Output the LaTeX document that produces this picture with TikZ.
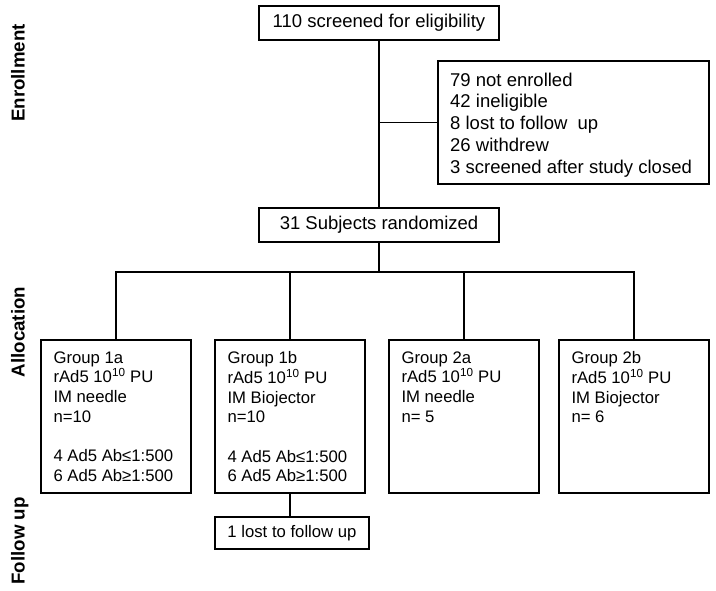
\documentclass[tikz,border=0pt]{standalone}
\usepackage{fontspec}
\setmainfont{Liberation Sans}
\begin{document}
\begin{tikzpicture}[x=1pt,y=-1pt,
  box/.style={draw, line width=1.35pt, inner sep=0pt, minimum width=#1},
  bigtxt/.style={font=\fontsize{18.5}{21.8}\selectfont},
  smalltxt/.style={font=\fontsize{16.7}{19.7}\selectfont},
  inbox/.style={inner sep=0pt, anchor=north west, align=left},
  side/.style={font=\fontsize{18.7}{20}\selectfont\bfseries, rotate=90, anchor=base, inner sep=0pt},
  conn/.style={line width=1.35pt}]
\useasboundingbox (0,0) rectangle (716,590);

% side labels
\node[side] (lenr) at (24.5,73) {Enrollment};
\node[side] (lall) at (24.5,332) {Allocation};
\node[side] (lfol) at (24.5,541) {Follow up};

% enrollment
\node[box=240pt, minimum height=34pt, bigtxt] (top) at (379,23) {110 screened for eligibility};
\node[box=271pt, minimum height=123pt] (excl) at (573.5,122.5) {};
\node[inbox, bigtxt] (exclt) at (450,72.5) {79 not enrolled\\42 ineligible\\8 lost to follow\ \ up\\26 withdrew\\3 screened after study closed};
\node[box=240pt, minimum height=34pt, bigtxt] (rand) at (379,225) {31 Subjects randomized};

% groups
\node[box=150pt, minimum height=153pt] (g1a) at (116,416.5) {};
\node[box=150pt, minimum height=153pt] (g1b) at (290,416.5) {};
\node[box=150pt, minimum height=153pt] (g2a) at (464,416.5) {};
\node[box=150pt, minimum height=153pt] (g2b) at (634,416.5) {};

\node[inbox, smalltxt] (g1at) at ([shift={(13pt,-12pt)}]g1a.north west) {Group 1a\\rAd5 10\textsuperscript{10} PU\\IM needle\\n=10\\[19.7pt]4 Ad5 Ab≤1:500\\6 Ad5 Ab≥1:500};
\node[inbox, smalltxt] (g1bt) at ([shift={(13pt,-12pt)}]g1b.north west) {Group 1b\\rAd5 10\textsuperscript{10} PU\\IM Biojector\\n=10\\[19.7pt]4 Ad5 Ab≤1:500\\6 Ad5 Ab≥1:500};
\node[inbox, smalltxt] (g2at) at ([shift={(13pt,-12pt)}]g2a.north west) {Group 2a\\rAd5 10\textsuperscript{10} PU\\IM needle\\n= 5};
\node[inbox, smalltxt] (g2bt) at ([shift={(13pt,-12pt)}]g2b.north west) {Group 2b\\rAd5 10\textsuperscript{10} PU\\IM Biojector\\n= 6};

\node[box=154pt, minimum height=32pt, smalltxt] (lost) at (292,533) {1 lost to follow up};

% connectors
\coordinate (split) at (379,272);
\draw[conn] (top.south) -- (rand.north);
\draw[conn] (excl.west) -- (excl.west -| top.south);
\draw[conn] (rand.south) -- (split);
\draw[conn] (g1a.north) -- (g1a.north |- split) -- (g2b.north |- split) -- (g2b.north);
\draw[conn] (g1b.north) -- (g1b.north |- split);
\draw[conn] (g2a.north) -- (g2a.north |- split);
\draw[conn] (g1b.south) -- (g1b.south |- lost.north);
\end{tikzpicture}
\end{document}
